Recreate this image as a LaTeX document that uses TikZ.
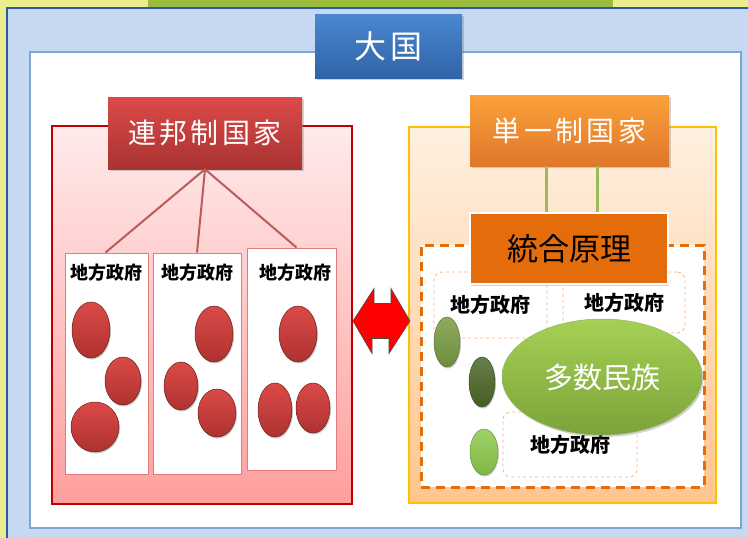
\documentclass[tikz,border=0pt]{standalone}
\usepackage{fontspec}
\newfontfamily\jp{Noto Sans CJK JP}
\newfontfamily\jpwide{Noto Sans CJK JP}[LetterSpace=12]
\usetikzlibrary{shapes.geometric,shadows,positioning,calc}

\definecolor{bgyellow}{HTML}{E9EF8C}
\definecolor{bggreen}{HTML}{9BBB3C}
\definecolor{paleblue}{HTML}{C6D9F1}
\definecolor{darkblue}{HTML}{2C5AA0}
\definecolor{lineblue}{HTML}{7FA5D6}
\definecolor{fedred}{HTML}{C00000}
\definecolor{unigold}{HTML}{FFC000}
\definecolor{dashorange}{HTML}{E46C0A}
\definecolor{softorange}{HTML}{F9B27F}
\definecolor{subred}{HTML}{E07C7C}
\definecolor{balltop}{HTML}{DB4A47}
\definecolor{ballbot}{HTML}{AE3230}
\definecolor{blueTop}{HTML}{4A88D0}
\definecolor{blueBot}{HTML}{3063A6}
\definecolor{redTop}{HTML}{DC4A48}
\definecolor{redBot}{HTML}{A83331}
\definecolor{orTop}{HTML}{FBA03A}
\definecolor{orBot}{HTML}{E0772A}
\definecolor{olivegreen}{HTML}{7A9C44}
\definecolor{darkgreen}{HTML}{4C6828}
\definecolor{lightgreen}{HTML}{8FCB4C}
\definecolor{minTop}{HTML}{A6D054}
\definecolor{minBot}{HTML}{7BA33A}
\definecolor{stemgreen}{HTML}{9BBB59}

\begin{document}
\begin{tikzpicture}[x=1pt,y=-1pt,
    title/.style={rectangle,inner sep=0pt,text=white,
                  font=\jpwide\fontsize{28}{28}\selectfont,
                  drop shadow={shadow xshift=1.5pt,shadow yshift=-2pt,opacity=.35}},
    frame/.style={rectangle,inner sep=0pt,line width=2pt},
    lgbox/.style={rectangle,inner sep=0pt,fill=white,draw=subred,line width=1pt},
    lgtext/.style={inner sep=0pt,font=\jp\bfseries\fontsize{18}{18}\selectfont},
    subbox/.style={rectangle,rounded corners=8pt,inner sep=0pt,draw=softorange,
                   dashed,line width=.8pt,font=\jp\bfseries\fontsize{20}{20}\selectfont},
    redball/.style 2 args={ellipse,inner sep=0pt,minimum width=#1,minimum height=#2,
                   top color=balltop,bottom color=ballbot,
                   draw=ballbot!60!black,line width=.5pt,
                   drop shadow={shadow xshift=1pt,shadow yshift=-1.5pt,opacity=.4}},
    greenball/.style n args={3}{ellipse,inner sep=0pt,minimum width=#1,minimum height=#2,
                   top color=#3!85!white,bottom color=#3!90!black,draw=#3!70!black,line width=.4pt,
                   drop shadow={shadow xshift=1pt,shadow yshift=-1.5pt,opacity=.4}}]

  \useasboundingbox (0,0) rectangle (748,538);
  % background
  \fill[bgyellow] (0,0) rectangle (748,538);
  \fill[bggreen] (148,0) rectangle (613,8);
  \draw[fill=paleblue,draw=darkblue,line width=2pt] (7,8) rectangle (760,550);
  \node[rectangle,inner sep=0pt,minimum width=711,minimum height=476,
        fill=white,draw=lineblue,line width=1.5pt] (inner) at (385.5,290) {};

  % top
  \node[title,minimum width=147,minimum height=64,top color=blueTop,bottom color=blueBot,
        font=\jpwide\fontsize{32}{32}\selectfont] (taikoku) at (388.5,46) {大国};

  % federal side
  \node[frame,minimum width=300,minimum height=378,draw=fedred,
        top color=red!8,bottom color=red!38] (fed) at (202,315) {};
  \node[lgbox,minimum width=83,minimum height=221] (lg1) at (106.5,363.5) {};
  \node[lgbox,minimum width=88,minimum height=221] (lg2) at (197,363.5) {};
  \node[lgbox,minimum width=89,minimum height=222] (lg3) at (291.5,359) {};
  \node[lgtext] (t1) at ([yshift=-20pt]lg1.north) {地方政府};
  \node[lgtext] (t2) at ([yshift=-20pt]lg2.north) {地方政府};
  \node[lgtext] (t3) at ([xshift=4pt,yshift=-25pt]lg3.north) {地方政府};
  \node[title,minimum width=194,minimum height=72,top color=redTop,
        bottom color=redBot] (fedT) at (205,133) {連邦制国家};
  \draw[redBot!80!white,line width=2pt] (fedT.south) -- ([xshift=-1pt]lg1.north)
       (fedT.south) -- (lg2.north)
       (fedT.south) -- ([xshift=5pt]lg3.north);
  \foreach \x/\y/\w/\h [count=\i] in {91/330/38/56,123/381/36/48,95/427/48/50,
                                      214/334/38/56,181/386/34/48,217/413/38/48,
                                      298/334/38/56,275/410/34/54,313/408/34/50}
    \node[redball={\w pt}{\h pt}] (ball\i) at (\x,\y) {};

  % unitary side
  \node[frame,minimum width=307,minimum height=376,draw=unigold,
        top color=orange!12,bottom color=orange!45] (uni) at (562.5,315) {};
  \node[rectangle,inner sep=0pt,minimum width=283,minimum height=242,fill=white,
        draw=dashorange,line width=3pt,dash pattern=on 9pt off 6pt] (core) at (562.5,366) {};
  \node[subbox,minimum width=113,minimum height=66] (sA) at (490.5,305) {地方政府};
  \node[subbox,minimum width=122,minimum height=61] (sB) at (624,302.5) {地方政府};
  \node[subbox,minimum width=134,minimum height=65] (sC) at (570,444.5) {地方政府};
  \node[title,minimum width=199,minimum height=71,top color=orTop,
        bottom color=orBot] (uniT) at (569.5,130.5) {単一制国家};
  \node[rectangle,inner sep=0pt,minimum width=198,minimum height=71,fill=dashorange,
        draw=white,line width=1.5pt,font=\jp\fontsize{31}{31}\selectfont,
        drop shadow={shadow xshift=1pt,shadow yshift=-1.5pt,opacity=.3}]
        (togo) at (569,248.5) {統合原理};
  \draw[stemgreen,line width=3pt]
       ([xshift=-23.5pt]uniT.south) -- ([xshift=-23pt]togo.north)
       ([xshift=27.5pt]uniT.south) -- ([xshift=28pt]togo.north);
  \node[greenball={26pt}{50pt}{olivegreen}] (g1) at (447,342) {};
  \node[greenball={26pt}{50pt}{darkgreen}] (g2) at (482,382) {};
  \node[greenball={28pt}{46pt}{lightgreen}] (g3) at (484,452) {};
  \node[ellipse,inner sep=0pt,minimum width=200,minimum height=116,
        top color=minTop,bottom color=minBot,
        draw=minBot!80!white,line width=.5pt,text=white,font=\jp\fontsize{29}{29}\selectfont,
        drop shadow={shadow xshift=1.5pt,shadow yshift=-2pt,opacity=.35}]
        (minzoku) at (602,377) {多数民族};

  % double arrow between the two
  \coordinate (al) at ([yshift=-6pt]fed.east);
  \coordinate (ar) at ([xshift=2pt,yshift=-6pt]uni.west);
  \draw[fill=red,draw=black!70,line width=.6pt,line join=miter]
       (al) -- ++(21,-32.5) -- ++(0,15) -- ++(17,0) -- ++(0,-15) -- (ar)
            -- ++(-21,32.5) -- ++(0,-15) -- ++(-17,0) -- ++(0,15) -- cycle;
\end{tikzpicture}
\end{document}
